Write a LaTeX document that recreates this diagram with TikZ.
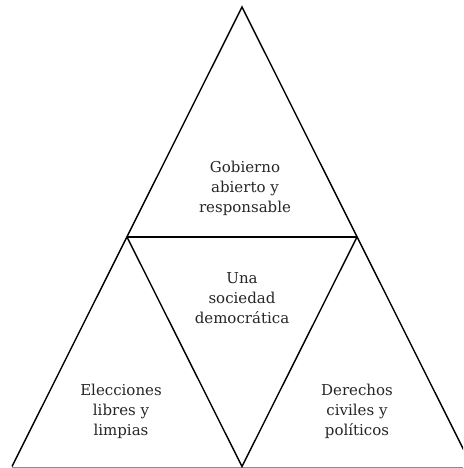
\documentclass[tikz,border=0pt]{standalone}
\usepackage{fontspec}
\setmainfont{DejaVu Serif}
\begin{document}
\begin{tikzpicture}[x=1pt,y=1pt,
  edge/.style={draw=black,line width=1.4pt,line join=miter},
  base/.style={draw=black!45,line width=0.8pt},
  lbl/.style={align=center,font=\fontsize{15}{20}\selectfont,text=black!85,inner sep=0pt}]
\useasboundingbox (0,0) rectangle (463,468);
\coordinate (A) at (242,461);
\coordinate (BL) at (12,1.5);
\coordinate (BR) at (472,1.5);
\coordinate (ML) at (127,231);
\coordinate (MR) at (357,231);
\coordinate (BM) at (242,1.5);
\coordinate (G0) at (12,1);
\coordinate (G1) at (463,1);
\begin{scope}
\clip (0,0) rectangle (463,468);
\draw[base] (G0) -- (G1);
\draw[edge] (BL) -- (A) -- (BR);
\draw[edge] (ML) -- (MR);
\draw[edge] (ML) -- (BM) -- (MR);
\end{scope}
\node[lbl] (top) at (245,280) {Gobierno\\abierto y\\responsable};
\node[lbl] (mid) at (242,170) {Una\\sociedad\\democrática};
\node[lbl] (left) at (121,57) {Elecciones\\libres y\\limpias};
\node[lbl] (right) at (357,57) {Derechos\\civiles y\\políticos};
\end{tikzpicture}
\end{document}
